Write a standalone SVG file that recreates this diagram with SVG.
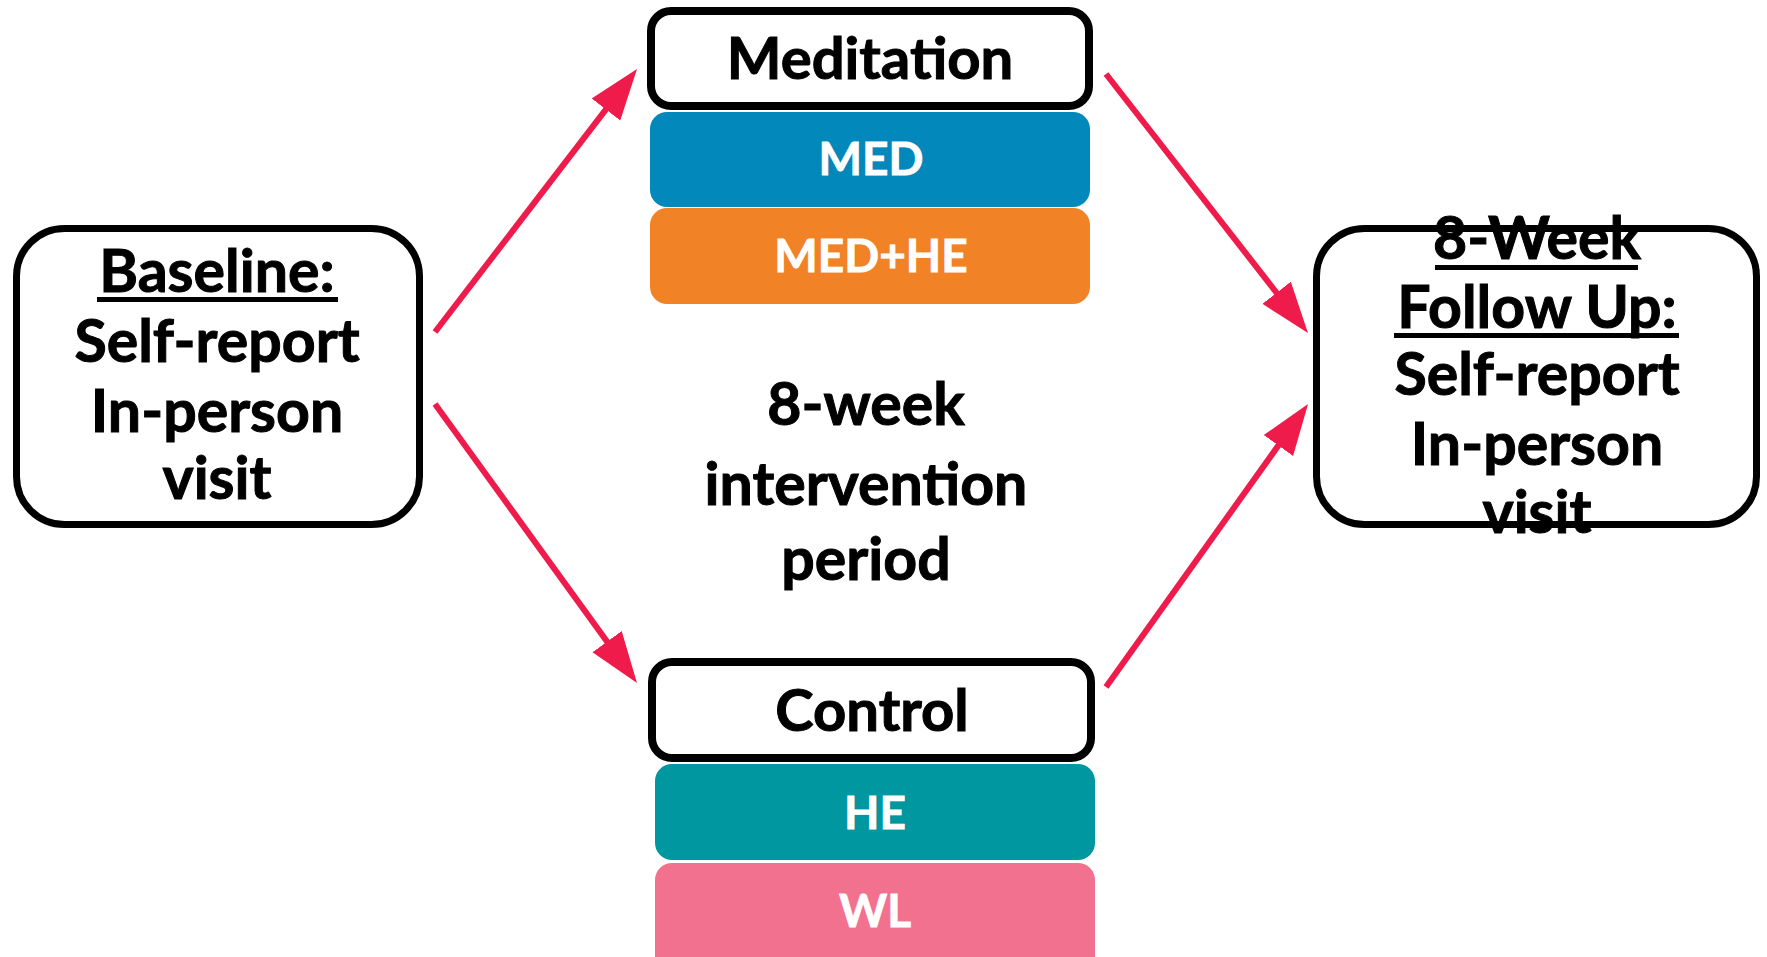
<svg xmlns="http://www.w3.org/2000/svg" width="1767" height="957" viewBox="0 0 1767 957">
<style>
.box{fill:#fff;stroke:#000;stroke-width:7}
.hdr{fill:#fff;stroke:#000;stroke-width:8}
.t{font-family:Lato,"Open Sans","Liberation Sans",sans-serif;font-weight:bold;fill:#000;stroke:#000;stroke-width:1;text-anchor:middle}
.big{font-size:59px}
.hd{font-size:58px}
.w{font-family:Lato,"Open Sans","Liberation Sans",sans-serif;font-weight:bold;fill:#fff;stroke:#fff;stroke-width:0.8;text-anchor:middle;font-size:46px}
.ul{fill:#000}
.arr{stroke:#EE1B4B;stroke-width:6;fill:none;marker-end:url(#ah)}
</style>
<defs>
<marker id="ah" markerUnits="userSpaceOnUse" markerWidth="60" markerHeight="40" viewBox="0 -20 60 40" refX="6" refY="0" orient="auto">
<path d="M0,-18 L51,0 L0,18 z" fill="#EE1B4B"/>
</marker>
</defs>
<rect width="1767" height="957" fill="#fff"/>
<g id="connectors">
<line class="arr" x1="435" y1="332" x2="609.6" y2="104.7"/>
<line class="arr" x1="435" y1="404" x2="610.6" y2="646.5"/>
<line class="arr" x1="1106" y1="74" x2="1280.3" y2="297.5"/>
<line class="arr" x1="1106" y1="687" x2="1281.9" y2="440.6"/>
</g>
<g id="baseline">
<rect class="box" x="16.5" y="228.5" width="403" height="296" rx="48"/>
<text class="t big" x="217" y="292">Baseline:</text>
<rect class="ul" x="97" y="297" width="241" height="5"/>
<text class="t big" x="217" y="362">Self-report</text>
<text class="t big" x="217" y="432">In-person</text>
<text class="t big" x="217" y="499">visit</text>
</g>
<g id="meditation">
<rect class="hdr" x="651" y="11" width="438" height="95" rx="20"/>
<text class="t hd" x="870" y="79">Meditation</text>
</g>
<g id="med">
<rect x="650" y="112" width="440" height="95" rx="17" fill="#0288BB"/>
<text class="w" x="871" y="175">MED</text>
</g>
<g id="medhe">
<rect x="650" y="208" width="440" height="96" rx="17" fill="#F28226"/>
<text class="w" x="871" y="272">MED+HE</text>
</g>
<g id="period">
<text class="t big" x="866" y="425">8-week</text>
<text class="t big" x="866" y="505">intervention</text>
<text class="t big" x="866" y="580">period</text>
</g>
<g id="control">
<rect class="hdr" x="652" y="662" width="439" height="96" rx="20"/>
<text class="t hd" x="872" y="731">Control</text>
</g>
<g id="he">
<rect x="655" y="764" width="440" height="96" rx="17" fill="#0097A0"/>
<text class="w" x="875" y="829">HE</text>
</g>
<g id="wl">
<rect x="655" y="863" width="440" height="110" rx="17" fill="#F2718F"/>
<text class="w" x="875" y="927">WL</text>
</g>
<g id="followup">
<rect class="box" x="1316.5" y="228.5" width="440" height="296" rx="48"/>
<text class="t big" x="1537" y="259">8-Week</text>
<rect class="ul" x="1435" y="265" width="203" height="5"/>
<text class="t big" x="1537" y="328">Follow Up:</text>
<rect class="ul" x="1394" y="333" width="285" height="5"/>
<text class="t big" x="1537" y="395">Self-report</text>
<text class="t big" x="1537" y="465">In-person</text>
<text class="t big" x="1537" y="533">visit</text>
</g>
</svg>
